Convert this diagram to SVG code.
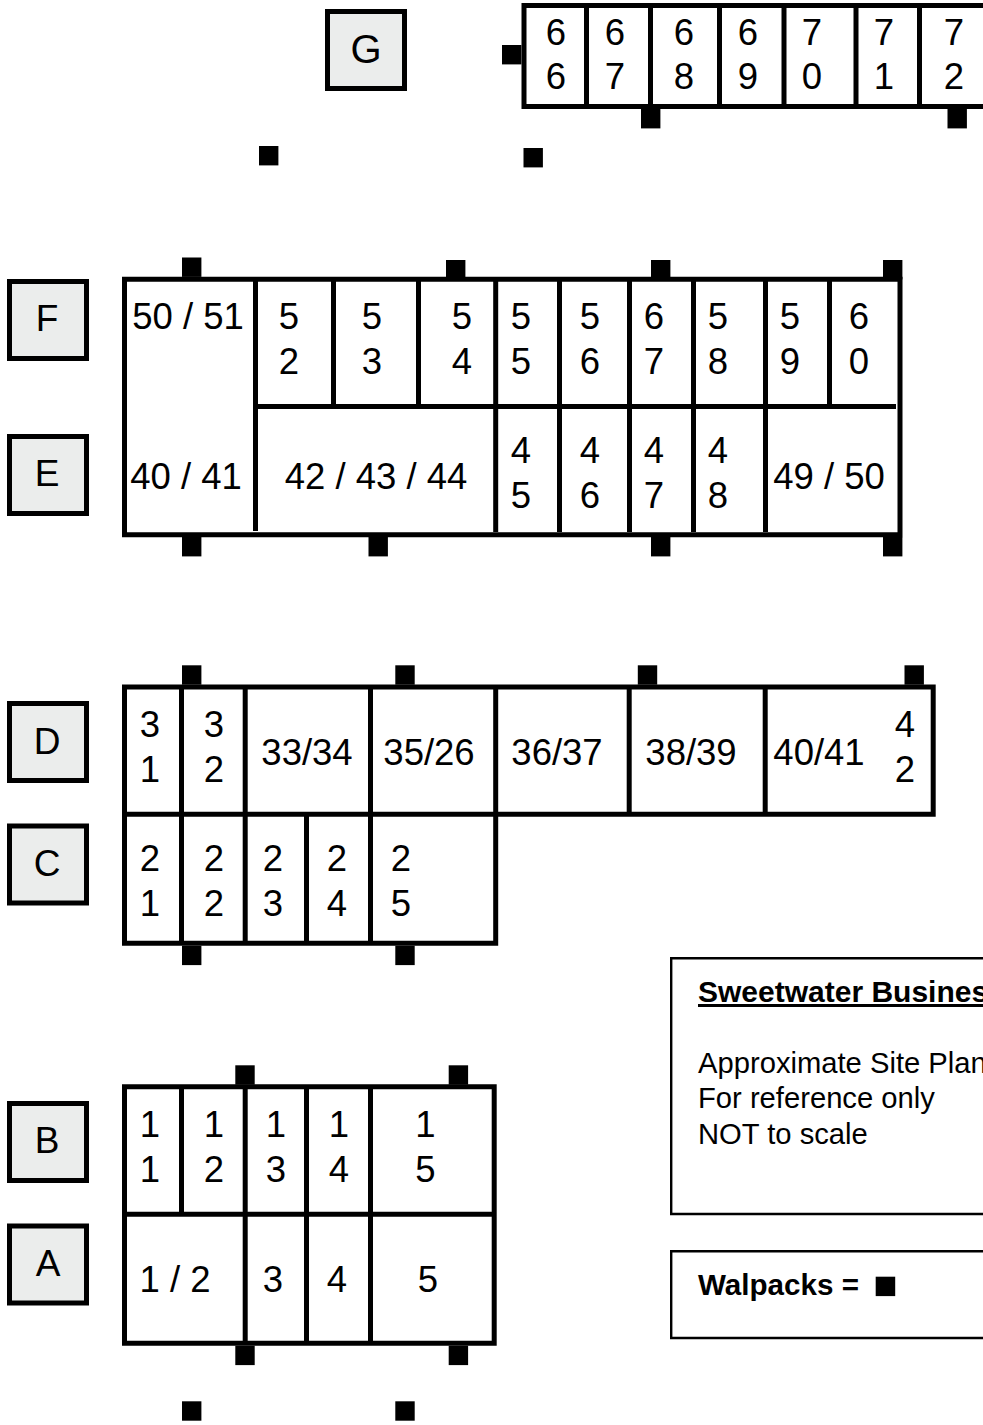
<svg xmlns="http://www.w3.org/2000/svg" width="983" height="1425" viewBox="0 0 983 1425">
<style>
text{font-family:"Liberation Sans",Arial,sans-serif;fill:#000}
.n{font-size:36.5px;text-anchor:middle}
.l{font-size:37px;text-anchor:middle}
.i{font-size:29.2px}
.b{font-weight:bold}
.w{fill:none;stroke:#000;stroke-width:5}
.t{fill:none;stroke:#000;stroke-width:2.4}
.k{fill:#ebedec;stroke:#000;stroke-width:5}
.p{fill:#000}
</style>
<rect width="983" height="1425" fill="#fff"/>
<defs><rect id="s" class="p" width="19.4" height="19.4"/></defs>

<g id="label-G"><rect class="k" x="327.5" y="11.5" width="77" height="77"/><text class="l" style="font-size:40px" x="366" y="63">G</text></g>
<g id="label-F"><rect class="k" x="9.5" y="281.5" width="77" height="77"/><text class="l" x="47" y="331">F</text></g>
<g id="label-E"><rect class="k" x="9.5" y="436.5" width="77" height="77"/><text class="l" x="47" y="486">E</text></g>
<g id="label-D"><rect class="k" x="9.5" y="703.5" width="77" height="77"/><text class="l" x="47" y="754">D</text></g>
<g id="label-C"><rect class="k" x="9.5" y="826" width="77" height="77"/><text class="l" x="47" y="876">C</text></g>
<g id="label-B"><rect class="k" x="9.5" y="1103.5" width="77" height="77"/><text class="l" x="47" y="1153">B</text></g>
<g id="label-A"><rect class="k" x="9.5" y="1226" width="77" height="77"/><text class="l" x="48" y="1276">A</text></g>

<g id="building-G">
<path class="w" d="M990 5.5H524V106.5H990M586.5 8V104M650.5 8V104M719.5 8V104M784 8V104M856 8V104M919.5 8V104"/>
<text class="n"><tspan x="556" y="45">6</tspan><tspan x="556" y="89">6</tspan></text>
<text class="n"><tspan x="615" y="45">6</tspan><tspan x="615" y="89">7</tspan></text>
<text class="n"><tspan x="684" y="45">6</tspan><tspan x="684" y="89">8</tspan></text>
<text class="n"><tspan x="748" y="45">6</tspan><tspan x="748" y="89">9</tspan></text>
<text class="n"><tspan x="812" y="45">7</tspan><tspan x="812" y="89">0</tspan></text>
<text class="n"><tspan x="884" y="45">7</tspan><tspan x="884" y="89">1</tspan></text>
<text class="n"><tspan x="954" y="45">7</tspan><tspan x="954" y="89">2</tspan></text>
</g>

<g id="building-FE">
<path class="w" d="M124.5 279.2H900V534.8H124.5ZM255.5 281V531M258 406.5H896M333.5 281V404M418.5 281V404M495.7 281V532M559.5 281V532M629.5 281V532M693.5 281V532M765.5 281V532M829.5 281V404"/>
<text class="n" x="188" y="328.5">50 / 51</text>
<text class="n"><tspan x="289" y="328.5">5</tspan><tspan x="289" y="373.5">2</tspan></text>
<text class="n"><tspan x="372" y="328.5">5</tspan><tspan x="372" y="373.5">3</tspan></text>
<text class="n"><tspan x="462" y="328.5">5</tspan><tspan x="462" y="373.5">4</tspan></text>
<text class="n"><tspan x="521" y="328.5">5</tspan><tspan x="521" y="373.5">5</tspan></text>
<text class="n"><tspan x="590" y="328.5">5</tspan><tspan x="590" y="373.5">6</tspan></text>
<text class="n"><tspan x="654" y="328.5">6</tspan><tspan x="654" y="373.5">7</tspan></text>
<text class="n"><tspan x="718" y="328.5">5</tspan><tspan x="718" y="373.5">8</tspan></text>
<text class="n"><tspan x="790" y="328.5">5</tspan><tspan x="790" y="373.5">9</tspan></text>
<text class="n"><tspan x="859" y="328.5">6</tspan><tspan x="859" y="373.5">0</tspan></text>
<text class="n" x="186" y="488.5">40 / 41</text>
<text class="n" x="376" y="488.5">42 / 43 / 44</text>
<text class="n"><tspan x="521" y="462.5">4</tspan><tspan x="521" y="507.5">5</tspan></text>
<text class="n"><tspan x="590" y="462.5">4</tspan><tspan x="590" y="507.5">6</tspan></text>
<text class="n"><tspan x="654" y="462.5">4</tspan><tspan x="654" y="507.5">7</tspan></text>
<text class="n"><tspan x="718" y="462.5">4</tspan><tspan x="718" y="507.5">8</tspan></text>
<text class="n" x="829" y="488.5">49 / 50</text>
</g>

<g id="building-DC">
<path class="w" d="M124.5 687H933.2V814.2H124.5ZM124.5 814.2V943.2H495.7V814.2M181.5 689V941M245.2 689V941M306.5 816V941M370.5 689V941M495.7 689V812M629.2 689V812M765.2 689V812"/>
<text class="n"><tspan x="150" y="736.5">3</tspan><tspan x="150" y="781.5">1</tspan></text>
<text class="n"><tspan x="214" y="736.5">3</tspan><tspan x="214" y="781.5">2</tspan></text>
<text class="n" x="307" y="765">33/34</text>
<text class="n" x="429" y="765">35/26</text>
<text class="n" x="557" y="765">36/37</text>
<text class="n" x="691" y="765">38/39</text>
<text class="n" x="819" y="765">40/41</text>
<text class="n"><tspan x="905" y="737">4</tspan><tspan x="905" y="781.5">2</tspan></text>
<text class="n"><tspan x="150" y="871">2</tspan><tspan x="150" y="916">1</tspan></text>
<text class="n"><tspan x="214" y="871">2</tspan><tspan x="214" y="916">2</tspan></text>
<text class="n"><tspan x="273" y="871">2</tspan><tspan x="273" y="916">3</tspan></text>
<text class="n"><tspan x="337" y="871">2</tspan><tspan x="337" y="916">4</tspan></text>
<text class="n"><tspan x="401" y="871">2</tspan><tspan x="401" y="916">5</tspan></text>
</g>

<g id="building-BA">
<path class="w" d="M124.5 1086.8H494.2V1343.2H124.5ZM124.5 1214.2H494.2M181.5 1089V1212M245.2 1089V1341M306.5 1089V1341M370.5 1089V1341"/>
<text class="n"><tspan x="150" y="1137">1</tspan><tspan x="150" y="1182">1</tspan></text>
<text class="n"><tspan x="214" y="1137">1</tspan><tspan x="214" y="1182">2</tspan></text>
<text class="n"><tspan x="276" y="1137">1</tspan><tspan x="276" y="1182">3</tspan></text>
<text class="n"><tspan x="339" y="1137">1</tspan><tspan x="339" y="1182">4</tspan></text>
<text class="n"><tspan x="425.5" y="1137">1</tspan><tspan x="425.5" y="1182">5</tspan></text>
<text class="n" x="175" y="1292">1 / 2</text>
<text class="n" x="273" y="1292">3</text>
<text class="n" x="337" y="1292">4</text>
<text class="n" x="428" y="1292">5</text>
</g>

<g id="walpacks">
<use href="#s" x="502" y="45"/><use href="#s" x="641" y="109"/><use href="#s" x="947.5" y="109"/>
<use href="#s" x="259" y="146"/><use href="#s" x="523.5" y="148"/>
<use href="#s" x="182" y="257.5"/><use href="#s" x="446" y="260"/><use href="#s" x="651" y="260"/><use href="#s" x="883" y="260"/>
<use href="#s" x="182" y="537"/><use href="#s" x="368.5" y="537"/><use href="#s" x="651" y="537"/><use href="#s" x="883" y="537"/>
<use href="#s" x="182" y="665.3"/><use href="#s" x="395.3" y="665.3"/><use href="#s" x="637.8" y="665.3"/><use href="#s" x="904.5" y="665.3"/>
<use href="#s" x="182" y="945.7"/><use href="#s" x="395.3" y="945.7"/>
<use href="#s" x="235.3" y="1065.3"/><use href="#s" x="448.7" y="1065.3"/>
<use href="#s" x="235.3" y="1345.7"/><use href="#s" x="448.7" y="1345.7"/>
<use href="#s" x="182" y="1401.3"/><use href="#s" x="395.3" y="1401.3"/>
</g>

<g id="title-box">
<path class="t" d="M990 958.2H671.2V1214H990"/>
<text class="i b" x="698" y="1002" text-decoration="underline" style="font-size:30px">Sweetwater Business</text>
<text class="i" x="698" y="1073">Approximate Site Plan</text>
<text class="i" x="698" y="1108">For reference only</text>
<text class="i" x="698" y="1144">NOT to scale</text>
</g>

<g id="legend-box">
<path class="t" d="M990 1251.2H671.2V1338H990"/>
<text class="i b" x="698" y="1295" style="font-size:29.6px">Walpacks =</text>
<rect class="p" x="875.7" y="1276.7" width="19.5" height="19.4"/>
</g>
</svg>
